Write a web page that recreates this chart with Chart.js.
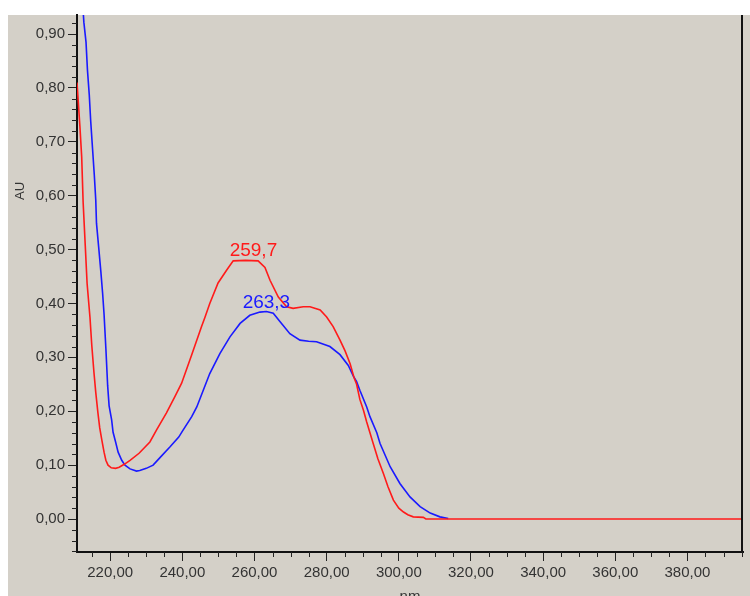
<!DOCTYPE html>
<html>
<head>
  <meta charset="UTF-8">
  <title>UV spectra</title>
  <script src="https://cdn.jsdelivr.net/npm/chart.js"></script>
  <style>
    html, body {
      margin: 0;
      padding: 0;
      background: #ffffff;
      overflow: hidden;
    }
    #wrap {
      width: 750px;
      height: 596px;
      position: relative;
    }
  </style>
</head>
<body>
  <div id="wrap"><canvas id="chart"></canvas></div>

  <script>
    // red trace (peak 259,7)
    const redNm = [210.8, 211.6, 212.1, 212.5, 213.1, 213.6, 214.4, 214.9, 215.5, 216.0,
      216.6, 217.1, 217.7, 218.3, 218.8, 219.4, 220.3, 221.5, 222.5, 224.0,
      225.5, 228.0, 231.0, 232.9, 235.6, 238.0, 239.8, 242.6, 245.3, 246.3,
      247.6, 249.9, 252.3, 254.1, 257.5, 261.0, 262.9, 264.3, 266.6, 268.9,
      270.7, 273.5, 275.4, 278.2, 280.0, 281.8, 283.7, 285.1, 286.5, 287.6,
      288.3, 289.2, 290.2, 291.1, 292.9, 294.2, 295.7, 297.0, 298.5, 300.0,
      301.3, 302.5, 304.0, 306.8, 307.5, 395.4];
    const redAU = [0.81, 0.729, 0.672, 0.588, 0.506, 0.437, 0.374, 0.322, 0.272, 0.235,
      0.197, 0.169, 0.146, 0.124, 0.109, 0.100, 0.095, 0.094, 0.096, 0.102,
      0.109, 0.122, 0.143, 0.166, 0.197, 0.228, 0.252, 0.305, 0.357, 0.375,
      0.400, 0.438, 0.462, 0.479, 0.480, 0.479, 0.467, 0.443, 0.412, 0.394,
      0.391, 0.394, 0.394, 0.388, 0.375, 0.357, 0.332, 0.312, 0.288, 0.262,
      0.250, 0.222, 0.202, 0.180, 0.140, 0.112, 0.085, 0.060, 0.035, 0.020,
      0.013, 0.008, 0.004, 0.003, 0.0, 0.0];

    // blue trace (peak 263,3)
    const blueNm = [211.0, 212.7, 213.3, 213.7, 214.2, 214.6, 215.1, 215.6, 216.0, 216.2,
      216.8, 217.4, 217.9, 218.3, 218.8, 219.3, 219.7, 220.4, 220.8, 221.5,
      222.2, 223.2, 224.1, 225.5, 227.3, 228.2, 230.0, 231.9, 233.8, 236.6,
      239.0, 240.2, 242.6, 244.0, 245.8, 247.6, 250.4, 253.2, 256.0, 258.7,
      261.5, 263.3, 265.2, 267.1, 269.8, 272.6, 275.0, 277.2, 280.9, 283.7,
      286.0, 287.4, 288.3, 289.2, 291.1, 292.0, 293.9, 294.8, 297.6, 300.3,
      303.1, 305.9, 308.7, 311.4, 313.7];
    const blueAU = [1.10, 0.922, 0.885, 0.833, 0.787, 0.738, 0.688, 0.638, 0.592, 0.549,
      0.505, 0.460, 0.419, 0.380, 0.317, 0.247, 0.210, 0.184, 0.161, 0.143,
      0.124, 0.109, 0.100, 0.093, 0.089, 0.090, 0.094, 0.100, 0.114, 0.134,
      0.152, 0.165, 0.190, 0.208, 0.239, 0.270, 0.307, 0.338, 0.363, 0.378,
      0.384, 0.385, 0.382, 0.366, 0.344, 0.332, 0.330, 0.329, 0.320, 0.305,
      0.285, 0.265, 0.255, 0.239, 0.208, 0.190, 0.160, 0.140, 0.097, 0.066,
      0.041, 0.023, 0.011, 0.004, 0.001];

    const peakNm = [259.7, 263.3];
    const peakAU = [0.48, 0.385];
    const peakText = ['259,7', '263,3'];
    const peakColors = ['#ff1a1a', '#1a1aff'];

    const xTicks = [220, 240, 260, 280, 300, 320, 340, 360, 380];
    const yTicks = [0, 0.1, 0.2, 0.3, 0.4, 0.5, 0.6, 0.7, 0.8, 0.9];

    const FONT = "'Liberation Sans', Arial, sans-serif";
    const comma = v => Number(v).toFixed(2).replace('.', ',');

    const frame = {
      id: 'frame',
      beforeDraw(chart) {
        const c = chart.ctx;
        c.save();
        c.fillStyle = '#ffffff';
        c.fillRect(0, 0, chart.width, chart.height);
        c.fillStyle = '#d4d0c8';
        c.fillRect(8, 15, chart.width - 8, chart.height - 15);
        c.restore();
      },
      afterDatasetsDraw(chart) {
        const c = chart.ctx;
        const a = chart.chartArea;
        const xs = chart.scales.x, ys = chart.scales.y;
        c.save();
        // right border
        c.strokeStyle = '#111';
        c.lineWidth = 2;
        c.beginPath();
        c.moveTo(a.right - 1, a.top);
        c.lineTo(a.right - 1, a.bottom);
        c.stroke();
        // minor ticks
        c.lineWidth = 1;
        c.strokeStyle = '#222';
        for (let v = 215; v < xs.max; v += 5) {
          if (v % 20 === 0) continue;
          const p = Math.round(xs.getPixelForValue(v)) + 0.5;
          c.beginPath();
          c.moveTo(p, a.bottom);
          c.lineTo(p, a.bottom + 5);
          c.stroke();
        }
        for (let i = -3; i <= 46; i++) {
          if (i % 5 === 0) continue;
          const v = i * 0.02;
          if (v < ys.min || v > ys.max) continue;
          const p = Math.round(ys.getPixelForValue(v)) + 0.5;
          c.beginPath();
          c.moveTo(a.left - 5, p);
          c.lineTo(a.left, p);
          c.stroke();
        }
        // peak labels
        c.font = '19px ' + FONT;
        c.textAlign = 'center';
        c.textBaseline = 'alphabetic';
        peakNm.forEach((nm, i) => {
          c.fillStyle = peakColors[i];
          c.fillText(peakText[i], xs.getPixelForValue(nm), ys.getPixelForValue(peakAU[i]) - 4);
        });
        // axis titles
        c.fillStyle = '#333';
        c.font = '13px ' + FONT;
        c.translate(20, 191);
        c.rotate(-Math.PI / 2);
        c.textBaseline = 'middle';
        c.fillText('AU', 0, 0);
        c.setTransform(1, 0, 0, 1, 0, 0);
        c.font = '15px ' + FONT;
        c.textBaseline = 'top';
        c.fillText('nm', (a.left + a.right) / 2, 589);
        c.restore();
      }
    };

    const ctx = document.getElementById('chart').getContext('2d');
    const chart = new Chart(ctx, {
      type: 'line',
      data: {
        datasets: [{
          label: 'A',
          data: redNm.map((x, i) => ({ x: x, y: redAU[i] })),
          borderColor: '#ff1a1a',
          borderWidth: 1.6,
          pointRadius: 0,
          tension: 0,
          clip: 0
        },
        {
          label: 'B',
          data: blueNm.map((x, i) => ({ x: x, y: blueAU[i] })),
          borderColor: '#1a1aff',
          borderWidth: 1.6,
          pointRadius: 0,
          tension: 0,
          clip: 0
        }]
      },
      options: {
        responsive: true,
        maintainAspectRatio: false,
        animation: false,
        devicePixelRatio: 1,
        layout: { padding: { top: 15, left: 8, right: 7, bottom: 0 } },
        plugins: {
          legend: { display: false },
          tooltip: { enabled: false }
        },
        scales: {
          x: {
            type: 'linear',
            min: 210.8,
            max: 395.4,
            afterBuildTicks: s => { s.ticks = xTicks.map(v => ({ value: v })); },
            afterFit: s => { s.height = 44; },
            ticks: {
              callback: comma,
              font: { family: FONT, size: 15 },
              color: '#333',
              padding: 3,
              maxRotation: 0,
              autoSkip: false
            },
            grid: { drawOnChartArea: false, tickLength: 9, color: '#222', lineWidth: 1 },
            border: { color: '#111', width: 2 }
          },
          y: {
            type: 'linear',
            min: -0.0612,
            max: 0.9353,
            afterBuildTicks: s => { s.ticks = yTicks.map(v => ({ value: v })); },
            afterFit: s => { s.width = 69; },
            ticks: {
              callback: comma,
              font: { family: FONT, size: 15 },
              color: '#333',
              padding: 3,
              autoSkip: false
            },
            grid: { drawOnChartArea: false, tickLength: 9, color: '#222', lineWidth: 1 },
            border: { color: '#111', width: 2 }
          }
        }
      },
      plugins: [frame]
    });
  </script>
</body>
</html>
